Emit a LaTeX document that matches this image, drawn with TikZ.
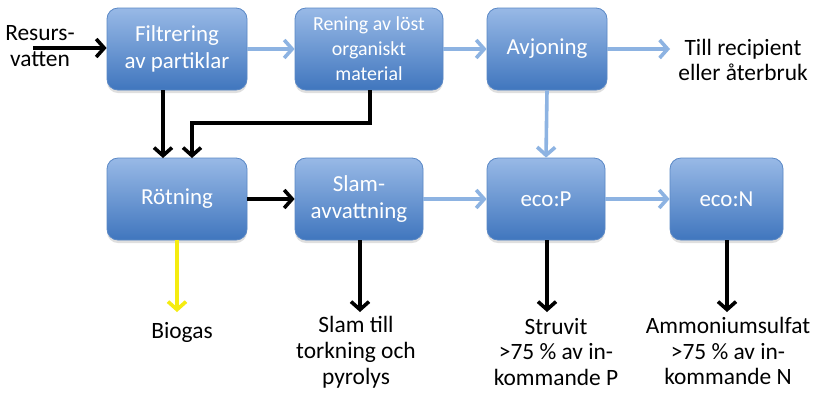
\documentclass[tikz,border=0pt]{standalone}
\usepackage{fontspec}
\setmainfont{Carlito}
\usetikzlibrary{arrows.meta,shadows}
\definecolor{boxtop}{HTML}{98B9E6}
\definecolor{boxbot}{HTML}{4076BE}
\definecolor{boxline}{HTML}{5A88C6}
\definecolor{flowblue}{HTML}{8DB3E2}
\definecolor{gasyellow}{HTML}{F5EC10}
\tikzset{
  procbox/.style={draw=boxline, line width=0.8bp, rounded corners=11bp,
    top color=boxtop, bottom color=boxbot, text=white, align=center,
    minimum height=82bp, inner sep=2bp,
    drop shadow={shadow xshift=0bp, shadow yshift=-3bp, opacity=0.25},
    font=\fontsize{23}{27}\selectfont},
  label/.style={align=center, text=black, font=\fontsize{23.5}{26}\selectfont},
  mainflow/.style={line width=3.6bp, -{Straight Barb[length=8bp,width=18bp]}},
  waterflow/.style={mainflow, draw=flowblue},
  solidflow/.style={mainflow, draw=black},
  gasflow/.style={mainflow, draw=gasyellow}
}
\begin{document}
\begin{tikzpicture}[x=1bp,y=-1bp]
\useasboundingbox (0,0) rectangle (818,397);
\fill[white] (0,0) rectangle (818,397);

% process boxes, top row
\node[procbox, minimum width=140bp] (filt) at (177,49) {Filtrering\\av partiklar};
\node[procbox, minimum width=148bp, font=\fontsize{20}{25}\selectfont] (ren) at (369,49) {Rening av löst\\organiskt\\material};
\node[procbox, minimum width=120bp] (avj) at (547,49) {Avjoning};
% process boxes, bottom row
\node[procbox, minimum width=140bp] (rot) at (177,199) {Rötning};
\node[procbox, minimum width=128bp] (slam) at (359,199) {Slam-\\avvattning};
\node[procbox, minimum width=118bp] (ecop) at (546,199) {eco:P};
\node[procbox, minimum width=113bp] (econ) at (726.5,199) {eco:N};

% inputs and outputs
\node[label] (in) at (40,46) {Resurs-\\vatten};
\node[label] (rec) at (743,60) {Till recipient\\eller återbruk};
\node[label] (gas) at (182,332) {Biogas};
\node[label] (slamout) at (356,352) {Slam till\\torkning och\\pyrolys};
\node[label] (struv) at (556,352) {Struvit\\>75 \% av in-\\kommande P};
\node[label] (ammon) at (728,351) {Ammoniumsulfat\\>75 \% av in-\\kommande N};

% end points of the open-ended arrows
\coordinate (inS) at (33,48);
\coordinate (gasT) at (177,312);
\coordinate (slamT) at (360,312);
\coordinate (strT) at (547,312);
\coordinate (amT) at (727,312);
\coordinate (recT) at (670,49);

% water line
\draw[solidflow] (inS) -- (filt.west |- inS);
\draw[waterflow] (filt.east) -- (ren.west);
\draw[waterflow] (ren.east) -- (avj.west);
\draw[waterflow] (avj.east) -- (recT);
\draw[waterflow] (avj.south) -- (ecop.north);
\draw[waterflow] (slam.east |- 0,199) -- (ecop.west |- 0,199);
\draw[waterflow] (ecop.east) -- (econ.west);

% sludge line
\draw[solidflow] (163,90) -- (163,158);
\draw[solidflow] (370,90) -- (370,123) -- (192,123) -- (192,158);
\draw[solidflow] (rot.east) -- (slam.west);

% products
\draw[gasflow] (rot.south) -- (gasT);
\draw[solidflow] (slam.south -| slamT) -- (slamT);
\draw[solidflow] (ecop.south -| strT) -- (strT);
\draw[solidflow] (econ.south -| amT) -- (amT);
\end{tikzpicture}
\end{document}
